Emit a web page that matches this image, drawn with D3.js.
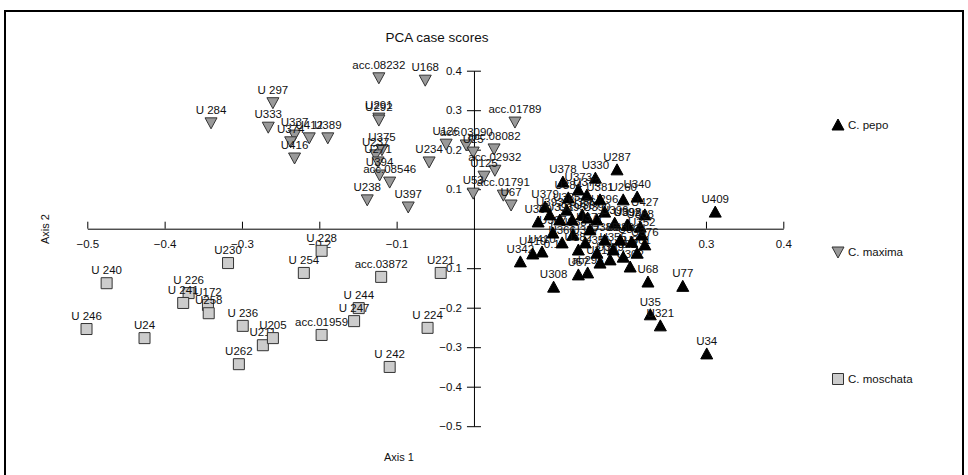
<!DOCTYPE html>
<html><head><meta charset="utf-8">
<script src="https://cdnjs.cloudflare.com/ajax/libs/d3/7.8.5/d3.min.js"></script>
<style>
body{margin:0;background:#fff;}
svg text{font-family:"Liberation Sans",Arial,sans-serif;fill:#111;}
</style></head><body>
<svg id="c" width="968" height="475"></svg>
<script>
// ---- data ----
const axisTicks = [-0.5,-0.4,-0.3,-0.2,-0.1,0.1,0.2,0.3,0.4];
const speciesNames = ["C. pepo","C. maxima","C. moschata"];

const maximaLabels = ["acc.08232","U168","U 297","U 284","U333","U337","U412","U389","U374","U416","U291","U292","U375","U237","U271","U394","acc.08546","U238","U397","U234","U126","acc.03090","U25","acc.08082","acc.01789","acc.02932","U125","U53","acc.01791","U67"];
const maximaX = [-0.123,-0.063,-0.260,-0.340,-0.266,-0.232,-0.213,-0.189,-0.237,-0.232,-0.123,-0.123,-0.119,-0.127,-0.124,-0.122,-0.109,-0.138,-0.085,-0.058,-0.036,-0.010,-0.001,0.026,0.053,0.027,0.013,-0.001,0.038,0.048];
const maximaY = [0.382,0.376,0.319,0.268,0.257,0.237,0.230,0.230,0.220,0.179,0.280,0.275,0.200,0.187,0.169,0.136,0.118,0.073,0.055,0.169,0.214,0.212,0.194,0.202,0.270,0.148,0.133,0.090,0.085,0.060];

const moschataLabels = ["U 240","U 246","U24","U 226","U 241","U172","U258","U230","U 236","U262","U211","U205","U 228","U 254","acc.03872","U221","U 244","U 247","acc.01959","U 224","U 242"];
const moschataX = [-0.475,-0.501,-0.426,-0.369,-0.376,-0.344,-0.343,-0.318,-0.299,-0.304,-0.273,-0.260,-0.197,-0.220,-0.120,-0.043,-0.149,-0.155,-0.197,-0.060,-0.109];
const moschataY = [-0.138,-0.254,-0.277,-0.163,-0.188,-0.193,-0.214,-0.087,-0.246,-0.343,-0.295,-0.277,-0.056,-0.112,-0.122,-0.112,-0.201,-0.234,-0.269,-0.251,-0.350];

const pepoLabels = ["U409","U287","U330","U340","U260","U296","U392","U427","U388","U68","U77","U35","U321","U34","U342","U308","U57","U419","U410","ab295","U316","U359","U302","U370","U361","U352","U363","U355","U351","U357","U366","U367","U368","U369","U379","U378","U373","U372","U384","U385","U386","U387","U390","U391","U393","U395","U396","U398","U381","U382","U383","U380","U376","U377"];
const pepoX = [0.312,0.185,0.157,0.211,0.193,0.169,0.198,0.221,0.215,0.225,0.270,0.228,0.241,0.301,0.060,0.103,0.135,0.076,0.088,0.147,0.163,0.176,0.202,0.193,0.211,0.217,0.204,0.180,0.159,0.144,0.114,0.102,0.128,0.083,0.092,0.115,0.135,0.146,0.122,0.120,0.140,0.147,0.159,0.111,0.098,0.127,0.182,0.199,0.163,0.135,0.169,0.189,0.221,0.150];
const pepoY = [0.042,0.149,0.128,0.080,0.073,0.042,0.009,0.035,0.004,-0.135,-0.146,-0.218,-0.246,-0.317,-0.084,-0.148,-0.117,-0.064,-0.059,-0.112,-0.087,-0.079,-0.097,-0.072,-0.062,-0.016,-0.034,-0.054,-0.062,-0.036,-0.036,-0.011,-0.016,0.017,0.055,0.118,0.098,0.085,0.078,0.047,0.035,0.027,0.022,0.022,0.035,0.022,0.014,0.009,0.073,-0.054,-0.029,-0.029,-0.041,-0.003];

// ---- drawing ----
const svg = d3.select("#c");
const x = d3.scaleLinear().domain([-0.5,0.4]).range([87.3,783.3]);
const y = d3.scaleLinear().domain([-0.5,0.4]).range([426.2,70.7]);

// frame
svg.append("rect").attr("x",5).attr("y",11).attr("width",958).attr("height",470)
  .attr("fill","none").attr("stroke","#000").attr("stroke-width",2);

svg.append("text").attr("x",437).attr("y",42).attr("text-anchor","middle")
  .style("font-size","13.5px").text("PCA case scores");
svg.append("text").attr("x",399).attr("y",461).attr("text-anchor","middle")
  .style("font-size","11px").text("Axis 1");
svg.append("text").attr("transform","translate(49,229) rotate(-90)").attr("text-anchor","middle")
  .style("font-size","11px").text("Axis 2");

// axes
const xa = svg.append("g").attr("transform",`translate(0,${y(0)})`)
  .call(d3.axisBottom(x).tickValues(axisTicks).tickSizeInner(-7).tickSizeOuter(0).tickPadding(11).tickFormat(d3.format(".1f")));
const ya = svg.append("g").attr("transform",`translate(${x(0)},0)`)
  .call(d3.axisLeft(y).tickValues(axisTicks).tickSizeInner(7).tickSizeOuter(0).tickPadding(5).tickFormat(d3.format(".1f")));
ya.selectAll(".tick line").attr("x1",7).attr("x2",-7);
[xa,ya].forEach(g=>{
  g.selectAll("path,line").attr("stroke","#000").attr("stroke-width",1);
  g.selectAll("text").style("font-size","11.5px").style("font-family","'Liberation Sans',Arial,sans-serif").attr("fill","#111");
});

// symbols
const triUp = "M0,-6L6,5L-6,5Z";
const triDown = "M0,6L6,-5L-6,-5Z";
const sq = "M-5.5,-5.5H5.5V5.5H-5.5Z";
const styles = [
  {path:triUp, fill:"#000", stroke:"#000"},
  {path:triDown, fill:"#999", stroke:"#333"},
  {path:sq, fill:"#ccc", stroke:"#333"}
];

function series(labels, xs, ys, st){
  const data = labels.map((l,i)=>({l, x:xs[i], y:ys[i]}));
  const g = svg.append("g");
  data.forEach(d=>{
    g.append("path").attr("d",st.path).attr("transform",`translate(${x(d.x)},${y(d.y)})`)
      .attr("fill",st.fill).attr("stroke",st.stroke).attr("stroke-width",1);
    g.append("text").attr("x",x(d.x)).attr("y",y(d.y)-9).attr("text-anchor","middle")
      .style("font-size","11.5px").text(d.l);
  });
}
series(maximaLabels, maximaX, maximaY, styles[1]);
series(moschataLabels, moschataX, moschataY, styles[2]);
series(pepoLabels, pepoX, pepoY, styles[0]);

// legend
const legY = [125,252,379];
speciesNames.forEach((n,i)=>{
  svg.append("path").attr("d",styles[i].path).attr("transform",`translate(838,${legY[i]})`)
    .attr("fill",styles[i].fill).attr("stroke",styles[i].stroke);
  svg.append("text").attr("x",848).attr("y",legY[i]+4).style("font-size","11.5px").text(n);
});
</script></body></html>
